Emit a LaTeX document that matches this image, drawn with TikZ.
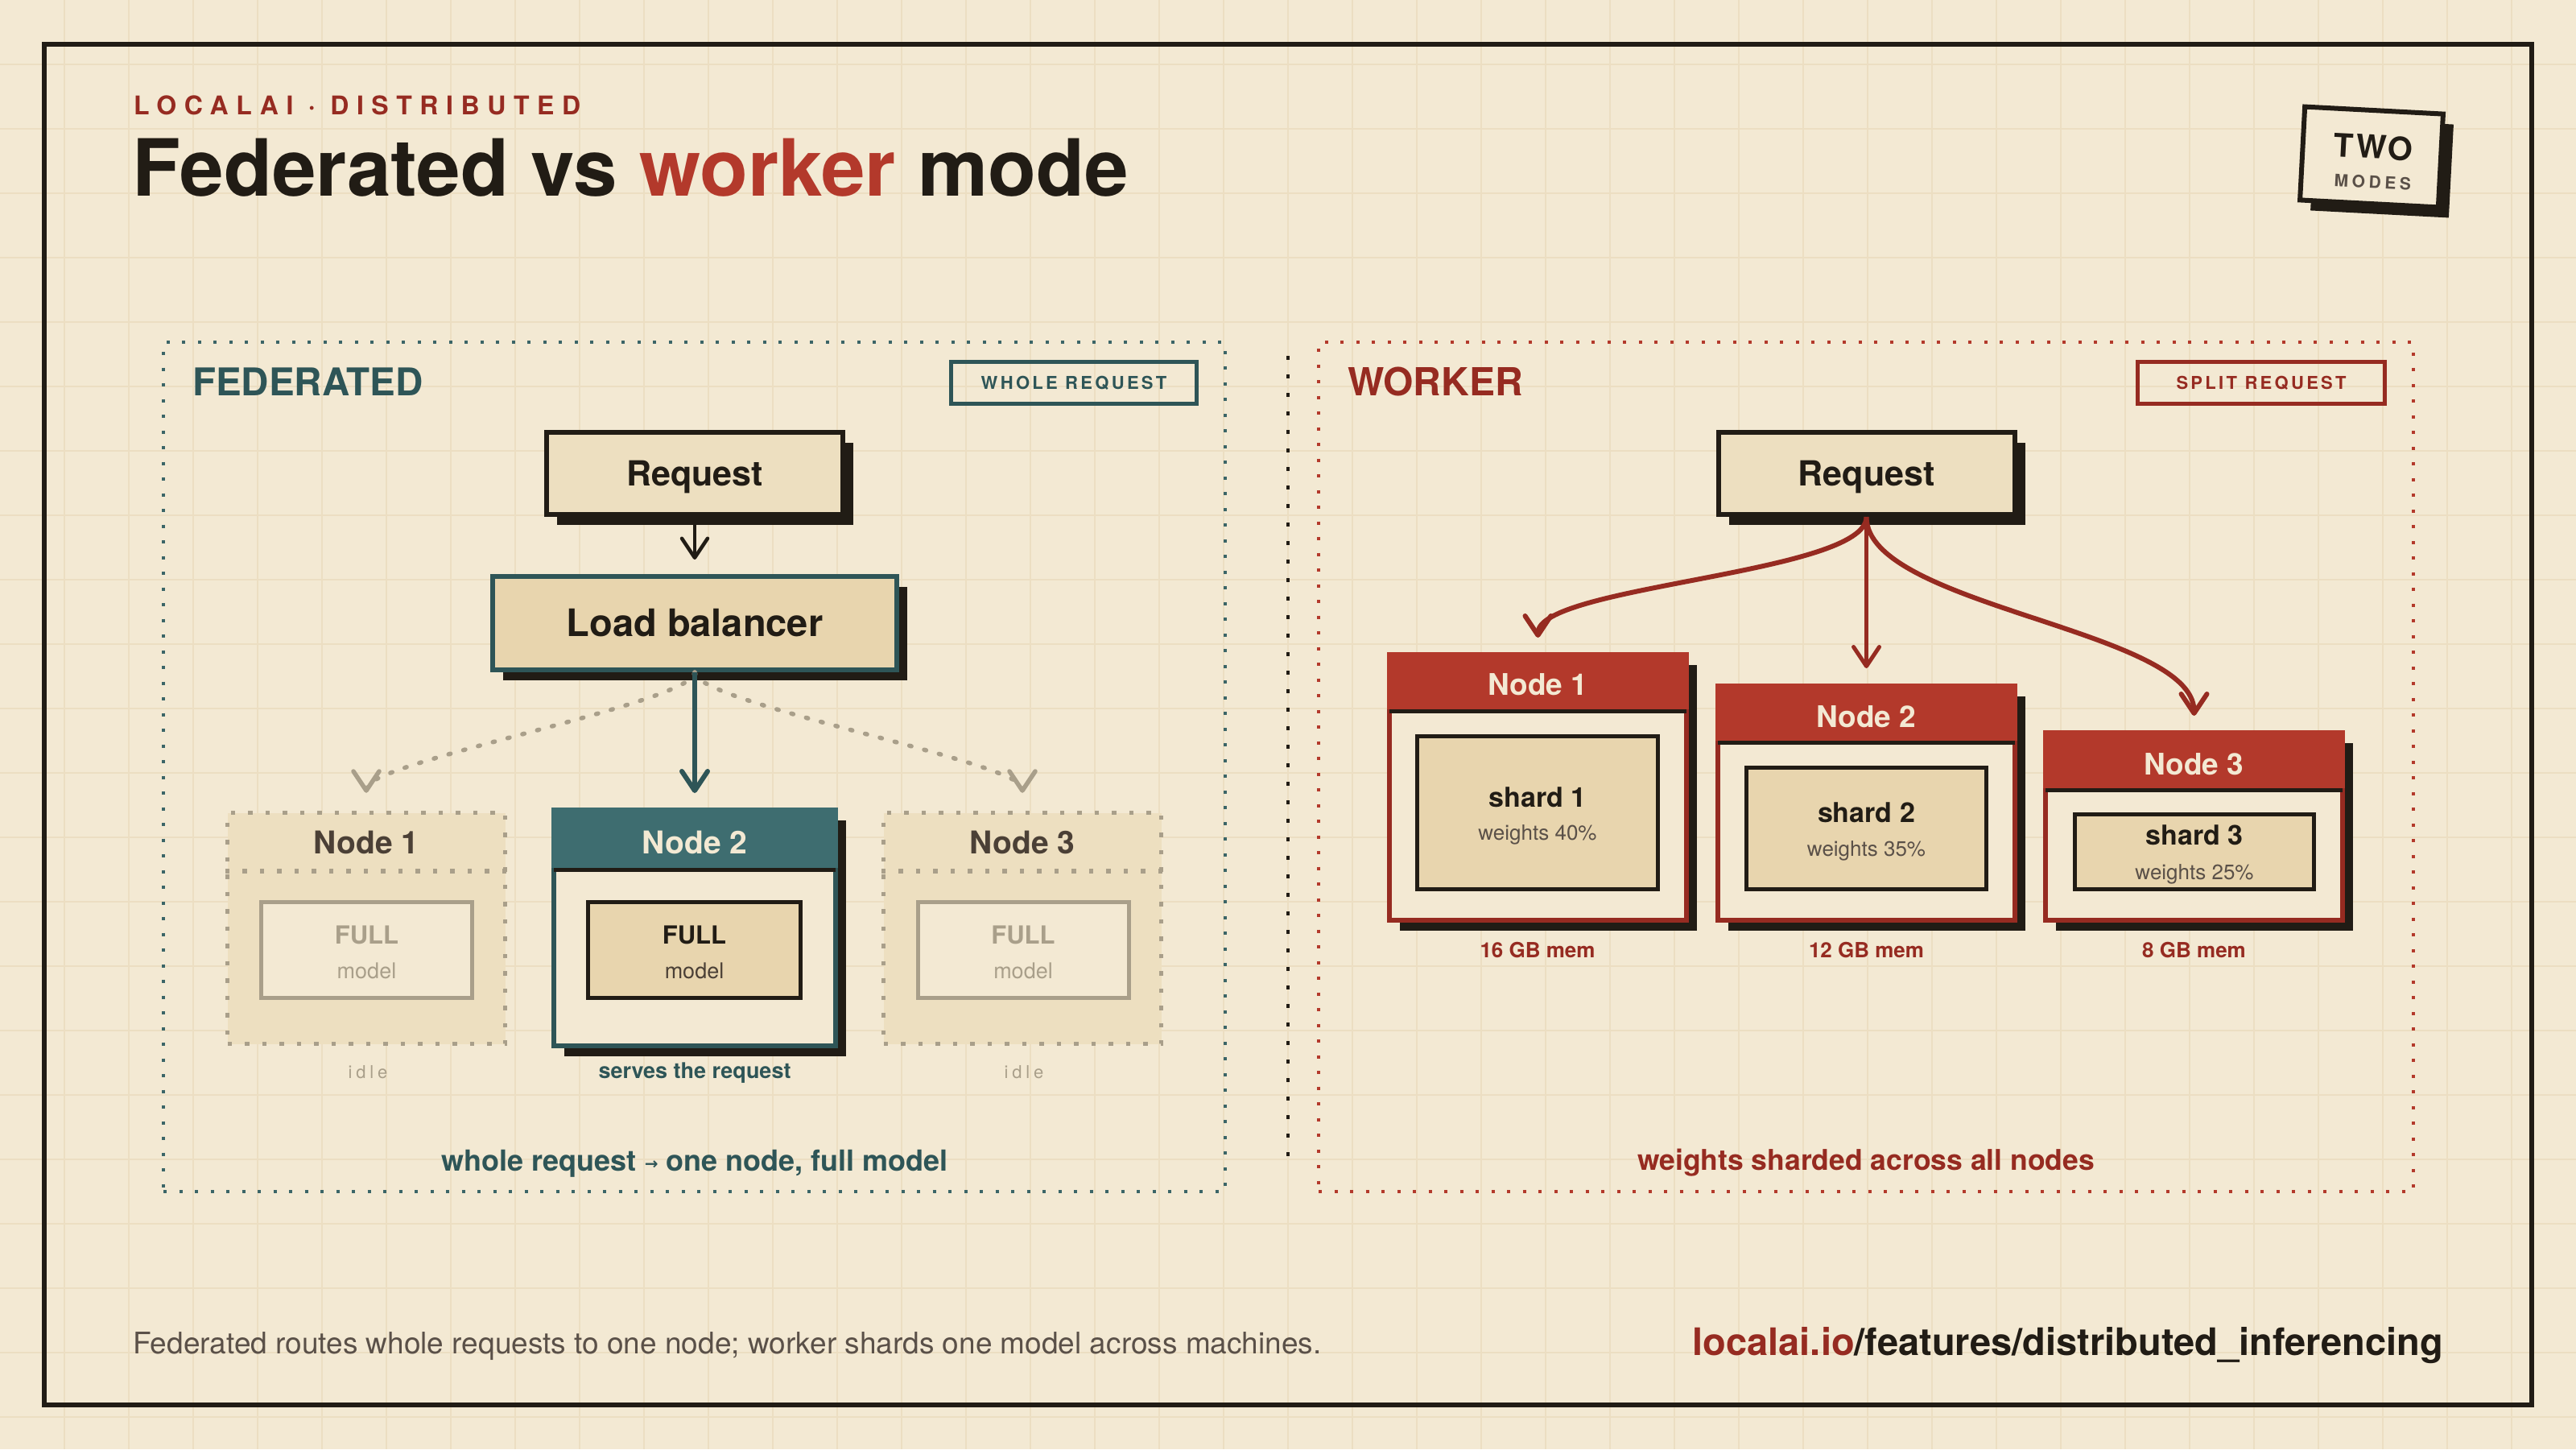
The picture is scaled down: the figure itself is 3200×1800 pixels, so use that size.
\documentclass[tikz,border=0pt]{standalone}
\usepackage{fontspec}
\setmainfont{TeX Gyre Heros}
\newfontfamily\dvfont{DejaVu Sans}
\usetikzlibrary{arrows.meta,shadows,calc}
\definecolor{bg}{HTML}{F3E9D3}
\definecolor{gridc}{HTML}{ECDEC2}
\definecolor{ink}{HTML}{211C15}
\definecolor{tealk}{HTML}{2E5557}
\definecolor{tealh}{HTML}{3E6D70}
\definecolor{tealdot}{HTML}{3B6567}
\definecolor{redh}{HTML}{B3392B}
\definecolor{redk}{HTML}{962B21}
\definecolor{tanc}{HTML}{E8D5AE}
\definecolor{creamc}{HTML}{EDDFC0}
\definecolor{graym}{HTML}{A99F8A}
\definecolor{brownt}{HTML}{4B4036}
\definecolor{grayt}{HTML}{5A5048}
\newcommand{\fsz}[1]{\fontsize{#1}{#1}\selectfont}
\tikzset{
  shadowed/.style={drop shadow={shadow xshift=13pt,shadow yshift=-13pt,fill=ink,opacity=1}},
  txt/.style={inner sep=0pt,anchor=base},
  reqbox/.style={shadowed,draw=ink,fill=creamc,line width=6pt,minimum width=368pt,minimum height=102pt,inner sep=0pt},
  lbbox/.style={shadowed,draw=tealk,fill=tanc,line width=6pt,minimum width=502pt,minimum height=116pt,inner sep=0pt},
  fedpanel/.style={draw=tealdot,line width=4pt,dash pattern=on 4pt off 15.5pt,inner sep=0pt},
  workpanel/.style={draw=redh,line width=4pt,dash pattern=on 4pt off 15.5pt,inner sep=0pt},
  tagbox/.style={line width=5pt,minimum width=305pt,minimum height=52pt,inner sep=0pt,font=\bfseries\fsz{22}\addfontfeature{LetterSpace=15}},
  idlebox/.style={draw=graym,fill=creamc,line width=5.5pt,dash pattern=on 5.5pt off 16pt,minimum width=345pt,minimum height=287pt,inner sep=0pt},
  idleinner/.style={draw=graym,fill=bg,line width=5pt,minimum width=262pt,minimum height=119pt,inner sep=0pt},
  actbox/.style={shadowed,draw=tealk,fill=bg,line width=6pt,minimum width=350pt,minimum height=293pt,inner sep=0pt},
  actinner/.style={draw=ink,fill=tanc,line width=5pt,minimum width=264pt,minimum height=119pt,inner sep=0pt},
  wbox/.style={shadowed,draw=redk,fill=bg,line width=6pt,minimum width=369pt,inner sep=0pt},
  shardbox/.style={draw=ink,fill=tanc,line width=5pt,inner sep=0pt},
  arrV/.style={-{Straight Barb[length=24pt,width=32pt,round]}},
  grayarrow/.style={arrV,draw=graym,line width=5.5pt,line cap=round,dash pattern=on 2.5pt off 16.5pt},
}
\begin{document}
\begin{tikzpicture}[x=1pt,y=-1pt]
\useasboundingbox (0,0) rectangle (3200,1800);
\fill[bg] (0,0) rectangle (3200,1800);
\foreach \i in {80,160,...,3120} \draw[gridc,line width=2pt] (\i,0) -- (\i,1800);
\foreach \j in {80,160,...,1760} \draw[gridc,line width=2pt] (0,\j) -- (3200,\j);
\draw[ink,line width=6pt] (55,55) rectangle (3145,1745);

% header
\node[txt,anchor=base west,text=redk,font=\bfseries\fsz{32}\addfontfeature{LetterSpace=30}] (kicker) at (166,142) {LOCALAI · DISTRIBUTED};
\node[txt,anchor=base west,text=ink,font=\bfseries\fsz{98}] (title) at (164,243) {Federated vs \textcolor{redh}{worker} mode};

% badge
\begin{scope}[shift={(2946,195)},rotate=-3]
\node[shadowed,draw=ink,fill=bg,line width=6pt,minimum width=172pt,minimum height=116pt,inner sep=0pt,transform shape] (badge) at (0,0) {};
\node[txt,transform shape,text=ink,font=\bfseries\fsz{40}\addfontfeature{LetterSpace=6}] (two) at (2,2) {TWO};
\node[txt,transform shape,text=grayt,font=\bfseries\fsz{21}\addfontfeature{LetterSpace=22}] (modes) at (3,39) {MODES};
\end{scope}

% panels
\node[fedpanel,minimum width=1319pt,minimum height=1055pt] (fedp) at (862.5,952.5) {};
\node[workpanel,minimum width=1360pt,minimum height=1055pt] (workp) at (2318,952.5) {};
\draw[ink,line width=4pt,dash pattern=on 5pt off 18pt] (1600,442) -- (1600,1452);

\node[txt,anchor=base west,text=tealk,font=\bfseries\fsz{47.5}] (fedt) at (239,491) {FEDERATED};
\node[txt,anchor=base west,text=redk,font=\bfseries\fsz{48}] (workt) at (1674,491) {WORKER};
\node[tagbox,draw=tealk,text=tealk] (wholetag) at (1334,475.5) {WHOLE REQUEST};
\node[tagbox,draw=redk,text=redk,minimum width=307pt] (splittag) at (2809,475.5) {SPLIT REQUEST};

% ---------- federated ----------
\node[reqbox] (freq) at (863,588) {};
\node[txt,text=ink,font=\bfseries\fsz{43}] (freqt) at (863,603) {Request};
\node[lbbox] (lb) at (863,774) {};
\node[txt,text=ink,font=\bfseries\fsz{47}] (lbt) at (863,790) {Load balancer};

% idle node 1
\node[idlebox] (fn1) at (455,1153) {};
\draw[graym,line width=5.5pt,dash pattern=on 5.5pt off 16pt] ($(fn1.north west)+(0,75)$) -- ($(fn1.north east)+(0,75)$);
\node[txt,text=brownt,font=\bfseries\fsz{39}] (fn1t) at (455,1060) {Node 1};
\node[idleinner] (fm1) at (455.5,1180) {};
\node[txt,text=graym,font=\bfseries\fsz{31}] (fm1a) at (455.5,1172) {FULL};
\node[txt,text=graym,font=\fsz{27}] (fm1b) at (455.5,1215) {model};
\node[txt,text=graym,font=\fsz{22}\addfontfeature{LetterSpace=22}] (idle1) at (457,1339) {idle};

% idle node 3
\node[idlebox] (fn3) at (1270,1153) {};
\draw[graym,line width=5.5pt,dash pattern=on 5.5pt off 16pt] ($(fn3.north west)+(0,75)$) -- ($(fn3.north east)+(0,75)$);
\node[txt,text=brownt,font=\bfseries\fsz{39}] (fn3t) at (1270,1060) {Node 3};
\node[idleinner] (fm3) at (1271,1180) {};
\node[txt,text=graym,font=\bfseries\fsz{31}] (fm3a) at (1271,1172) {FULL};
\node[txt,text=graym,font=\fsz{27}] (fm3b) at (1271,1215) {model};
\node[txt,text=graym,font=\fsz{22}\addfontfeature{LetterSpace=22}] (idle3) at (1272,1339) {idle};

% active node 2
\node[actbox] (fn2) at (863,1152.5) {};
\fill[tealh] (fn2.north west) rectangle ($(fn2.north east)+(0,75)$);
\draw[ink,line width=5pt] ($(fn2.north west)+(3,77.5)$) -- ($(fn2.north east)+(-3,77.5)$);
\node[txt,text=bg,font=\bfseries\fsz{39}] (fn2t) at (863,1060) {Node 2};
\node[actinner] (fm2) at (862.5,1180) {};
\node[txt,text=ink,font=\bfseries\fsz{31}] (fm2a) at (862.5,1172) {FULL};
\node[txt,text=brownt,font=\fsz{27}] (fm2b) at (862.5,1215) {model};
\node[txt,text=tealk,font=\bfseries\fsz{27}] (serves) at (863,1339) {serves the request};

\node[txt,text=tealk,font=\bfseries\fsz{36}] (fedcap) at (863,1454) {whole request {\dvfont\fsz{20}\raisebox{2pt}{→}} one node, full model};

% federated connectors
\draw[arrV,draw=ink,line width=4.5pt,shorten >=18pt] (freq.south) -- (lb.north);
\draw[grayarrow,shorten >=22pt] (lb.south) .. controls +(0,38) and +(0,-60) .. (fn1.north);
\draw[grayarrow,shorten >=22pt] (lb.south) .. controls +(0,38) and +(0,-60) .. (fn3.north);
\draw[arrV,draw=tealk,line width=6pt,shorten >=18pt] (lb.south) -- (fn2.north);

% ---------- worker ----------
\node[reqbox] (wreq) at (2318.5,588) {};
\node[txt,text=ink,font=\bfseries\fsz{43}] (wreqt) at (2318.5,603) {Request};

% worker node 1
\node[wbox,minimum height=330pt] (wn1) at (1910.5,978) {};
\fill[redh] (wn1.north west) rectangle ($(wn1.north east)+(0,71)$);
\draw[ink,line width=5pt] ($(wn1.north west)+(3,73.5)$) -- ($(wn1.north east)+(-3,73.5)$);
\node[txt,text=bg,font=\bfseries\fsz{37}] (wn1t) at (1910.5,863) {Node 1};
\node[shardbox,minimum width=299pt,minimum height=190pt] (ws1) at (1910,1009.5) {};
\node[txt,text=ink,font=\bfseries\fsz{34}] (ws1a) at (1910,1002) {shard 1};
\node[txt,text=grayt,font=\fsz{26}] (ws1b) at (1910,1043) {weights 40\%};
\node[txt,text=redk,font=\bfseries\fsz{26}] (wm1) at (1910,1189) {16 GB mem};

% worker node 2
\node[wbox,minimum height=291pt] (wn2) at (2318.5,997.5) {};
\fill[redh] (wn2.north west) rectangle ($(wn2.north east)+(0,71)$);
\draw[ink,line width=5pt] ($(wn2.north west)+(3,73.5)$) -- ($(wn2.north east)+(-3,73.5)$);
\node[txt,text=bg,font=\bfseries\fsz{37}] (wn2t) at (2318.5,903) {Node 2};
\node[shardbox,minimum width=298pt,minimum height=151pt] (ws2) at (2318.5,1029) {};
\node[txt,text=ink,font=\bfseries\fsz{34}] (ws2a) at (2318.5,1021) {shard 2};
\node[txt,text=grayt,font=\fsz{26}] (ws2b) at (2318.5,1063) {weights 35\%};
\node[txt,text=redk,font=\bfseries\fsz{26}] (wm2) at (2318.5,1189) {12 GB mem};

% worker node 3
\node[wbox,minimum height=233pt] (wn3) at (2725.5,1026.5) {};
\fill[redh] (wn3.north west) rectangle ($(wn3.north east)+(0,72)$);
\draw[ink,line width=5pt] ($(wn3.north west)+(3,74.5)$) -- ($(wn3.north east)+(-3,74.5)$);
\node[txt,text=bg,font=\bfseries\fsz{37}] (wn3t) at (2725.5,962) {Node 3};
\node[shardbox,minimum width=297pt,minimum height=93pt] (ws3) at (2726,1058) {};
\node[txt,text=ink,font=\bfseries\fsz{34}] (ws3a) at (2726,1049) {shard 3};
\node[txt,text=grayt,font=\fsz{26}] (ws3b) at (2726,1092) {weights 25\%};
\node[txt,text=redk,font=\bfseries\fsz{26}] (wm3) at (2725.5,1189) {8 GB mem};

\node[txt,text=redk,font=\bfseries\fsz{35.5}] (workcap) at (2318,1453) {weights sharded across all nodes};

% worker connectors
\draw[arrV,draw=redk,line width=6pt,shorten >=18pt] (wreq.south) .. controls +(0,71) and +(0,-83) .. (wn1.north);
\draw[arrV,draw=redk,line width=5pt,shorten >=19pt] (wreq.south) -- (wn2.north);
\draw[arrV,draw=redk,line width=6pt,shorten >=18pt] (wreq.south) .. controls +(0,111) and +(0,-125) .. (wn3.north);

% footer
\node[txt,anchor=base west,text=grayt,font=\fsz{37}] (foot) at (165,1681) {Federated routes whole requests to one node; worker shards one model across machines.};
\node[txt,anchor=base east,text=ink,font=\bfseries\fsz{47}] (url) at (3035,1683) {\textcolor{redk}{localai.io}/features/distributed\_inferencing};
\end{tikzpicture}
\end{document}
